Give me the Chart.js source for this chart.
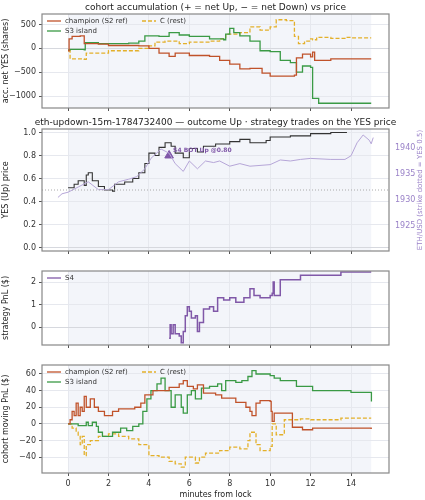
<!DOCTYPE html>
<html>
<head>
<meta charset="utf-8">
<script src="https://cdn.jsdelivr.net/npm/chart.js@4.4.1/dist/chart.umd.min.js"></script>
<style>
  body { margin: 0; background: #fff; }
  .p { position: absolute; left: 0; }
</style>
</head>
<body>
<canvas id="c1" class="p" style="top:0px" width="425" height="118"></canvas>
<canvas id="c2" class="p" style="top:118px" width="425" height="143"></canvas>
<canvas id="c3" class="p" style="top:261px" width="425" height="94"></canvas>
<canvas id="c4" class="p" style="top:355px" width="425" height="145"></canvas>
<script>
// panel 1: accumulated net YES shares  [minutes, shares]
const accChampion = [[0,-50],[0.05,200],[0.2,250],[0.6,260],[0.8,100],[1.5,90],[2,60],[3,60],[3.5,50],[4,0],[4.5,-100],[5,-170],[5.3,-100],[6,-150],[7,-170],[7.5,-250],[8,-330],[8.5,-430],[9,-420],[9.6,-520],[10,-580],[11.2,-560],[11.3,-200],[11.6,-120],[12,-180],[12.1,-80],[12.2,-250],[13,-220],[15,-220]];
const accS3 = [[0,-30],[0.1,-20],[0.8,-30],[0.85,120],[1.5,100],[3,110],[3.5,150],[3.8,260],[4.5,250],[5,330],[5.5,280],[6,250],[7,200],[7.7,180],[7.8,300],[8,420],[8.2,330],[8.5,260],[9,150],[9.5,-50],[10,-70],[10.5,-250],[11,-300],[11.3,-500],[11.6,-370],[12,-400],[12.1,-1050],[12.4,-1150],[15,-1150]];
const accC = [[0,-50],[0.1,-220],[0.8,-230],[0.9,-100],[2,-50],[3.5,0],[4,50],[4.3,130],[4.8,150],[5.5,100],[6,130],[7,150],[7.5,200],[7.8,300],[8.5,330],[9,450],[9.5,380],[10,450],[10.3,600],[10.8,580],[11.2,250],[11.4,100],[11.7,150],[12,200],[12.1,180],[12.3,230],[13,210],[13.7,230],[14,220],[15,220]];

// panel 2: YES price and ETH/USD
const yesPrice = [[0,0.52],[0.3,0.55],[0.5,0.58],[0.8,0.54],[0.9,0.63],[1,0.65],[1.2,0.58],[1.5,0.53],[1.8,0.5],[2.2,0.49],[2.3,0.55],[2.8,0.57],[3.2,0.6],[3.5,0.65],[3.8,0.73],[4,0.82],[4.3,0.8],[4.5,0.87],[4.8,0.91],[5.1,0.88],[5.3,0.82],[5.7,0.78],[6,0.86],[6.4,0.83],[6.7,0.88],[7.3,0.9],[7.7,0.9],[8,0.92],[8.5,0.94],[9,0.91],[9.8,0.93],[10,0.96],[11,0.97],[12,0.99],[13,1.0],[13.8,1.0]];
const ethUsd = [[-0.5,1930.5],[-0.3,1931.2],[0,1931.5],[0.5,1932.5],[1,1933.5],[1.5,1932],[2,1932],[2.5,1933.5],[3,1934],[3.4,1934.5],[3.8,1936],[4.1,1938],[4.6,1939.8],[5,1939],[5.3,1937],[5.7,1935.5],[6,1937.5],[6.4,1936],[6.8,1937.5],[7.2,1937.2],[7.5,1937.5],[8,1936.5],[8.5,1937],[9,1936.5],[10,1936.8],[10.5,1937.7],[11,1937.5],[11.5,1937.8],[12,1938],[13,1937.8],[13.7,1937.8],[14,1938.5],[14.3,1941],[14.6,1942.5],[14.9,1941.5],[15,1940.8],[15.1,1942]];
const trade = { x: 5, y: 0.80, label: 'S4 BOT Up @0.80' };

// panel 3: S4 strategy PnL
const pnlS4 = [[5,-0.5],[5.05,0.1],[5.1,-0.3],[5.2,0.1],[5.3,-0.3],[5.5,-0.4],[5.6,-0.7],[5.7,-0.2],[5.8,0.5],[5.9,0.9],[6,0.7],[6.1,0.4],[6.3,0.5],[6.4,-0.2],[6.5,0.2],[6.7,0.8],[7,0.9],[7.2,0.7],[7.4,1.3],[7.7,1.2],[8,1.3],[8.3,1.1],[8.7,1.3],[9,1.7],[9.2,1.4],[9.5,1.3],[10,1.4],[10.1,1.5],[10.15,2.0],[10.2,1.4],[10.5,2.1],[11,2.1],[11.5,2.3],[12,2.3],[13,2.3],[13.5,2.45],[15,2.45]];

// panel 4: cohort moving PnL ($)
const pnlChampion = [[0,0],[0.1,5],[0.2,15],[0.3,10],[0.4,25],[0.5,10],[0.6,20],[0.7,15],[0.8,33],[0.9,20],[1.1,30],[1.3,20],[1.5,15],[1.8,10],[2.2,15],[2.5,18],[3,18],[3.3,20],[3.6,25],[3.8,35],[4.2,40],[4.5,40],[5,44],[5.5,48],[5.7,52],[5.9,45],[6.2,42],[6.4,47],[6.7,37],[7.3,35],[7.6,31],[8.3,26],[8.8,20],[9,15],[9.1,10],[9.3,25],[9.5,28],[10,27],[10.05,15],[10.1,3],[10.2,13],[11,13],[11.1,-4],[11.6,-7],[12.1,-5],[15,-6]];
const pnlS3 = [[0,0],[0.5,-2],[0.9,2],[1,-2],[1.2,2],[1.4,-3],[1.5,-10],[1.7,-15],[2.2,-10],[2.6,-5],[2.9,-8],[3.2,-3],[3.5,0],[3.7,15],[3.9,30],[4.1,40],[4.4,48],[4.6,55],[4.8,40],[5.1,20],[5.3,35],[5.6,20],[5.7,13],[5.9,35],[6.1,40],[6.3,30],[6.6,43],[7,45],[7.4,48],[7.6,40],[7.8,52],[8.3,50],[8.6,52],[8.9,57],[9.1,64],[9.3,60],[10,58],[10.2,55],[10.5,52],[11.3,45],[12.1,40],[14,38],[15,38],[15.01,27]];
const pnlC = [[0,0],[0.2,-5],[0.4,-10],[0.5,-15],[0.6,-25],[0.7,-15],[0.8,-38],[0.9,-25],[1.1,-20],[1.5,-15],[2,-12],[2.5,-15],[3,-18],[3.5,-25],[4,-38],[4.5,-40],[5,-45],[5.3,-48],[5.6,-52],[5.8,-40],[6.3,-47],[6.5,-40],[6.8,-35],[7.5,-32],[8,-28],[8.5,-30],[8.9,-20],[9,-10],[9.3,-25],[9.5,-32],[10,-27],[10.1,0],[10.3,-13],[10.7,5],[11.5,6],[12,5],[13.5,7],[15,7]];

const FONT = 'DejaVu Sans';
const RED = '#c0522a', GREEN = '#3a9a45', GOLD = '#e3b02a', PURPLE = '#8058a8', LILAC = '#9a82c8';

function pts(arr) { return arr.map(p => ({ x: p[0], y: p[1] })); }

function stepLine(label, arr, color, dashed) {
  return {
    label: label, data: pts(arr), borderColor: color, borderWidth: 1.3,
    stepped: true, pointRadius: 0, borderDash: dashed ? [4, 2] : []
  };
}

// shaded session background + frame + title + inline legend
const panelPlugin = {
  id: 'panel',
  beforeDraw(chart, args, opts) {
    const { ctx, chartArea: a, scales } = chart;
    ctx.save();
    ctx.fillStyle = '#fff';
    ctx.fillRect(a.left, a.top, a.width, a.height);
    const x0 = scales.x.getPixelForValue(0), x1 = scales.x.getPixelForValue(15);
    ctx.fillStyle = '#f3f5fa';
    ctx.fillRect(x0, a.top, x1 - x0, a.height);
    ctx.restore();
  },
  afterDraw(chart, args, opts) {
    const { ctx, chartArea: a } = chart;
    ctx.save();
    ctx.strokeStyle = '#888';
    ctx.lineWidth = 1.2;
    ctx.strokeRect(a.left, a.top, a.width, a.height);
    if (opts.title) {
      ctx.fillStyle = '#222';
      ctx.font = '9px ' + FONT;
      ctx.textAlign = 'center';
      ctx.fillText(opts.title, (a.left + a.right) / 2, a.top - 4);
    }
    if (opts.rightTitle) {
      ctx.save();
      ctx.translate(chart.width - 5, (a.top + a.bottom) / 2);
      ctx.rotate(-Math.PI / 2);
      ctx.fillStyle = LILAC;
      ctx.font = '7px ' + FONT;
      ctx.textAlign = 'center';
      ctx.textBaseline = 'middle';
      ctx.fillText(opts.rightTitle, 0, 0);
      ctx.restore();
    }
    if (opts.legend) {
      ctx.font = '7px ' + FONT;
      ctx.textAlign = 'left';
      ctx.textBaseline = 'middle';
      opts.legend.forEach((it, i) => {
        const col = i < 2 ? 0 : 1, row = i < 2 ? i : 0;
        const lx = a.left + 5 + col * 95, ly = a.top + 7 + row * 10;
        ctx.strokeStyle = it.color;
        ctx.lineWidth = 1.3;
        ctx.setLineDash(it.dashed ? [4, 2] : []);
        ctx.beginPath(); ctx.moveTo(lx, ly); ctx.lineTo(lx + 14, ly); ctx.stroke();
        ctx.setLineDash([]);
        ctx.fillStyle = '#333';
        ctx.fillText(it.label, lx + 18, ly);
      });
    }
    if (opts.note) {
      const x = chart.scales.x.getPixelForValue(opts.note.x) + 4;
      const y = chart.scales.y.getPixelForValue(opts.note.y) - 3;
      ctx.fillStyle = PURPLE;
      ctx.font = 'bold 6px ' + FONT;
      ctx.textAlign = 'left';
      ctx.fillText(opts.note.label, x, y);
    }
    ctx.restore();
  }
};

function xScale(h, showTicks) {
  return {
    type: 'linear', min: -1.29, max: 15.88,
    afterFit(s) { s.height = h; },
    ticks: { stepSize: 2, font: { family: FONT, size: 8 }, color: '#333',
      callback: v => showTicks ? String(v) : '' },
    afterBuildTicks(s) { s.ticks = [0, 2, 4, 6, 8, 10, 12, 14].map(v => ({ value: v })); },
    grid: { color: '#e6e8ee', tickLength: 3, tickColor: '#555' },
    border: { display: false },
    title: { display: showTicks, text: 'minutes from lock', font: { family: FONT, size: 8 }, color: '#222', padding: 0 }
  };
}

function yScale(min, max, title, ticksList, fmt) {
  return {
    min: min, max: max,
    afterFit(s) { s.width = 42; },
    afterBuildTicks(s) { s.ticks = ticksList.map(v => ({ value: v })); },
    ticks: { font: { family: FONT, size: 8 }, color: '#333', callback: fmt || (v => String(v).replace('-', '\u2212')) },
    grid: { color: ctx => ctx.tick && ctx.tick.value === 0 ? '#d6d8de' : '#e6e8ee', tickLength: 3, tickColor: '#555' },
    border: { display: false },
    title: { display: true, text: title, font: { family: FONT, size: 8 }, color: '#222', padding: 1 }
  };
}

const baseOpts = (padTop, padRight) => ({
  responsive: false, animation: false,
  layout: { padding: { top: padTop, right: padRight, left: 0, bottom: 0 } },
  plugins: { legend: { display: false }, tooltip: { enabled: false } }
});

const cohortLegend = [{ label: 'champion (S2 ref)', color: RED }, { label: 'S3 island', color: GREEN }, { label: 'C (rest)', color: GOLD, dashed: true }];

// panel 1
const o1 = baseOpts(14, 36);
o1.scales = { x: xScale(10, false), y: yScale(-1250, 720, 'acc. net YES (shares)', [-1000, -500, 0, 500]) };
o1.plugins.panel = { title: 'cohort accumulation (+ = net Up, \u2212 = net Down) vs price', legend: cohortLegend };
new Chart(document.getElementById('c1'), {
  type: 'line',
  data: { datasets: [stepLine('champion (S2 ref)', accChampion, RED), stepLine('S3 island', accS3, GREEN), stepLine('C (rest)', accC, GOLD, true)] },
  options: o1, plugins: [panelPlugin]
});

// panel 2
const o2 = baseOpts(11, 0);
o2.scales = {
  x: xScale(10, false),
  y: yScale(-0.03, 1.03, 'YES (Up) price', [0, 0.2, 0.4, 0.6, 0.8, 1.0], v => v.toFixed(1)),
  y2: { position: 'right', min: 1920.2, max: 1943.65,
    afterFit(s) { s.width = 36; },
    afterBuildTicks(s) { s.ticks = [1925, 1930, 1935, 1940].map(v => ({ value: v })); },
    ticks: { font: { family: FONT, size: 8 }, color: LILAC, callback: v => String(v) },
    grid: { display: false, tickLength: 3, tickColor: LILAC }, border: { display: false } }
};
o2.plugins.panel = { title: 'eth-updown-15m-1784732400 \u2014 outcome Up \u00b7 strategy trades on the YES price',
  note: trade, rightTitle: 'ETH/USD (strike dotted = YES 0.5)' };
new Chart(document.getElementById('c2'), {
  type: 'line',
  data: { datasets: [
    { label: 'strike', data: [{ x: -1.29, y: 0.5 }, { x: 15.88, y: 0.5 }], borderColor: '#aaa', borderWidth: 1, borderDash: [1, 2], pointRadius: 0 },
    { label: 'ETH/USD', data: pts(ethUsd), yAxisID: 'y2', borderColor: '#b6a6d8', borderWidth: 1, pointRadius: 0 },
    Object.assign(stepLine('YES price', yesPrice, '#333'), { borderWidth: 1.1 }),
    { type: 'scatter', label: 'S4 trade', data: [{ x: trade.x, y: trade.y }], pointStyle: 'triangle', pointRadius: 5, backgroundColor: PURPLE, borderColor: PURPLE }
  ] },
  options: o2, plugins: [panelPlugin]
});

// panel 3
const o3 = baseOpts(10, 36);
o3.scales = { x: xScale(10, false), y: yScale(-0.8, 2.49, 'strategy PnL ($)', [0, 1, 2]) };
o3.plugins.panel = { legend: [{ label: 'S4', color: PURPLE }] };
new Chart(document.getElementById('c3'), {
  type: 'line',
  data: { datasets: [Object.assign(stepLine('S4', pnlS4, PURPLE), { borderWidth: 1.5 })] },
  options: o3, plugins: [panelPlugin]
});

// panel 4
const o4 = baseOpts(10, 36);
o4.scales = { x: xScale(27, true), y: yScale(-59, 70.8, 'cohort moving PnL ($)', [-40, -20, 0, 20, 40, 60]) };
o4.plugins.panel = { legend: cohortLegend };
new Chart(document.getElementById('c4'), {
  type: 'line',
  data: { datasets: [stepLine('champion (S2 ref)', pnlChampion, RED), stepLine('S3 island', pnlS3, GREEN), stepLine('C (rest)', pnlC, GOLD, true)] },
  options: o4, plugins: [panelPlugin]
});
</script>
</body>
</html>
